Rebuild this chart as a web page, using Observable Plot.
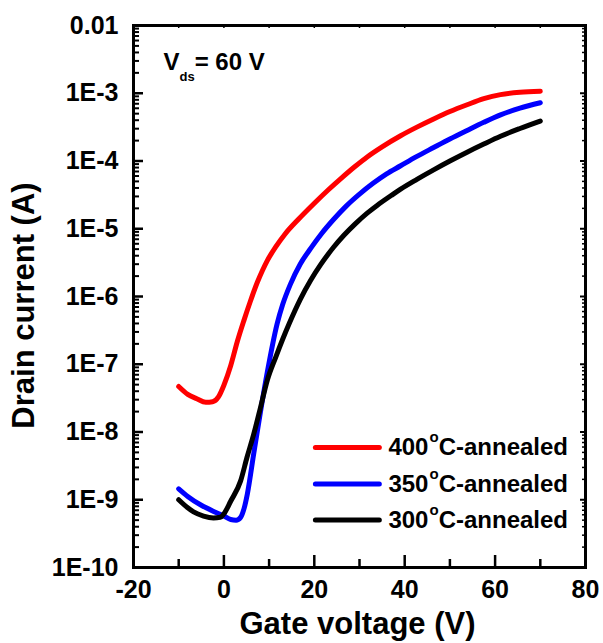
<!DOCTYPE html>
<html><head><meta charset="utf-8">
<script src="https://cdn.jsdelivr.net/npm/d3@7"></script>
<script src="https://cdn.jsdelivr.net/npm/@observablehq/plot@0.6"></script>
<style>
body{margin:0;background:#fff}
svg{font-family:"Liberation Sans",Arial,sans-serif;font-weight:bold}
</style>
</head><body>
<script>
// ---- data ----
const seriesNames = ["400°C-annealed", "350°C-annealed", "300°C-annealed"];
const seriesColors = ["#ff0000", "#0000ff", "#000000"];

const vg400 = [-10,-8,-6,-4,-2.5,-1.2,0,1.5,3,4.4,5.8,7.4,8.5,9.6,11.5,13.5,16.5,19.9,23,26,29,31.7,35,39,42.7,46.4,50,53.8,57.5,61.2,65.5,70];
const id400 = [4.7e-8,3.6e-8,3.1e-8,2.75e-8,2.8e-8,3.3e-8,4.9e-8,9.5e-8,2.2e-7,4.37e-7,8.3e-7,1.62e-6,2.4e-6,3.39e-6,5.43e-6,8.3e-6,1.38e-5,2.34e-5,3.7e-5,5.6e-5,8.3e-5,1.15e-4,1.62e-4,2.34e-4,3.16e-4,4.17e-4,5.37e-4,6.76e-4,8.3e-4,9.55e-4,1.035e-3,1.07e-3];

const vg350 = [-10,-8,-5,-2,0,1.5,2.7,3.7,4.5,5.2,6.6,8.1,9.6,11.8,13,14.7,16.9,19.2,21.5,24.3,27,30,33,36,39.1,42.5,46.4,50,53.8,57.5,61.2,65.5,70];
const id350 = [1.45e-9,1.12e-9,8.3e-10,6.6e-10,5.75e-10,5.1e-10,5.0e-10,5.5e-10,7.6e-10,1.23e-9,4.8e-9,2.0e-8,7.6e-8,4.0e-7,7.6e-7,1.51e-6,3.02e-6,5.13e-6,8.3e-6,1.38e-5,2.14e-5,3.24e-5,4.68e-5,6.46e-5,8.5e-5,1.15e-4,1.58e-4,2.11e-4,2.82e-4,3.72e-4,4.79e-4,6.03e-4,7.24e-4];

const vg300 = [-10,-8,-6.7,-4.5,-2.3,-0.8,0,1.5,3.7,5.1,6.6,8.1,9.6,11.5,13,14.5,16.9,19.2,21.4,24.3,26.5,29,31.7,33.9,37,39.1,42.7,46.4,50,53.8,57.5,61.2,65.5,70];
const id300 = [1.0e-9,7.6e-10,6.6e-10,5.75e-10,5.4e-10,5.5e-10,6.2e-10,9.5e-10,1.9e-9,4.2e-9,9.3e-9,2.3e-8,5.8e-8,1.29e-7,2.34e-7,4.07e-7,9.1e-7,1.74e-6,2.95e-6,5.37e-6,7.94e-6,1.17e-5,1.70e-5,2.21e-5,3.09e-5,3.85e-5,5.37e-5,7.41e-5,1.0e-4,1.35e-4,1.78e-4,2.32e-4,3.02e-4,3.89e-4];

const xTicks = [-20, 0, 20, 40, 60, 80];
const xTickLabels = ["-20", "0", "20", "40", "60", "80"];
const xMinorTicks = [-10, 10, 30, 50, 70];
const yTicks = [1e-10, 1e-9, 1e-8, 1e-7, 1e-6, 1e-5, 1e-4, 1e-3, 1e-2];
const yTickLabels = ["1E-10", "1E-9", "1E-8", "1E-7", "1E-6", "1E-5", "1E-4", "1E-3", "0.01"];
const xTitle = "Gate voltage (V)";
const yTitle = "Drain current (A)";
const note = "Vds= 60 V";

// legend layout (in data units)
const legendX1 = 20.35, legendX2 = 34.5, legendTextX = 36.4;
const legendY = [5.9e-9, 1.71e-9, 5.02e-10];

// ---- build table ----
const gates = [vg400, vg350, vg300];
const currents = [id400, id350, id300];
const rows = [];
seriesNames.forEach((s, k) => gates[k].forEach((v, i) => rows.push({series: s, vg: v, id: currents[k][i]})));
const legendRows = seriesNames.map((s, i) => ({series: s, y: legendY[i]}));

const yMinor = [];
yTicks.slice(0, -1).forEach(t => { for (let m = 2; m <= 9; m++) yMinor.push(t * m); });

const W = 603, H = 643, mL = 133, mR = 18, mT = 25, mB = 76;
const fw = W - mL - mR, fh = H - mT - mB;

const chart = Plot.plot({
  width: W, height: H,
  marginLeft: mL, marginRight: mR, marginTop: mT, marginBottom: mB,
  style: {fontFamily: "Liberation Sans, Arial, sans-serif", fontWeight: "bold", fontSize: "25px", background: "#fff", color: "#000"},
  x: {domain: [-20, 80]},
  y: {type: "log", domain: [1e-10, 1e-2]},
  color: {domain: seriesNames, range: seriesColors},
  marks: [
    Plot.axisY({ticks: yTicks, tickFormat: d => yTickLabels[yTicks.indexOf(d)], tickSize: 0, tickPadding: 15, label: null, fontSize: 25}),
    Plot.axisX({ticks: xTicks, tickFormat: d => xTickLabels[xTicks.indexOf(d)], tickSize: 0, tickPadding: 13, label: null, fontSize: 25}),
    // inward ticks
    Plot.tickY(yTicks, {y: d => d, insetRight: fw - 10, strokeWidth: 2.5}),
    Plot.tickY(yMinor, {y: d => d, insetRight: fw - 6, strokeWidth: 2}),
    Plot.tickY(yTicks, {y: d => d, insetLeft: fw - 5, strokeWidth: 2}),
    Plot.tickY(yMinor, {y: d => d, insetLeft: fw - 3, strokeWidth: 1.5}),
    Plot.tickX(xTicks, {x: d => d, insetTop: fh - 12, strokeWidth: 2.5}),
    Plot.tickX(xMinorTicks, {x: d => d, insetTop: fh - 8, strokeWidth: 2.5}),
    Plot.tickX(xTicks.concat(xMinorTicks), {x: d => d, insetBottom: fh - 3, strokeWidth: 1.5}),
    Plot.frame({strokeWidth: 3}),
    Plot.line(rows, {x: "vg", y: "id", z: "series", stroke: "series", strokeWidth: 5, curve: "monotone-x", strokeLinecap: "round", strokeLinejoin: "round"}),
    // legend
    Plot.ruleY(legendRows, {y: "y", x1: legendX1, x2: legendX2, stroke: "series", strokeWidth: 5, strokeLinecap: "round"}),
    Plot.text(legendRows, {x: legendTextX, y: "y", text: "series", textAnchor: "start", lineAnchor: "middle", fontSize: 24, fontWeight: "bold"}),
    // annotation & titles
    Plot.text([note], {frameAnchor: "top-left", dx: 30, dy: 36.5, textAnchor: "start", lineAnchor: "middle", fontSize: 24, fontWeight: "bold"}),
    Plot.text([xTitle], {frameAnchor: "bottom", dx: -2, dy: 57, textAnchor: "middle", lineAnchor: "middle", fontSize: 31, fontWeight: "bold"}),
    Plot.text([yTitle], {frameAnchor: "left", rotate: -90, dx: -109, dy: 9, textAnchor: "middle", lineAnchor: "middle", fontSize: 31, fontWeight: "bold"})
  ]
});

// rich text: superscript "o" and subscript "ds"
d3.select(chart).selectAll("text").each(function () {
  const t = d3.select(this);
  const s = this.textContent;
  const m = s.match(/^(\d+)°(C-annealed)$/);
  if (m) {
    t.text(null);
    t.append("tspan").text(m[1]);
    t.append("tspan").attr("font-size", 15).attr("dy", -13).attr("dx", 1).text("o");
    t.append("tspan").attr("dy", 13).text(m[2]);
  } else if (s === note) {
    t.text(null);
    t.append("tspan").text("V");
    t.append("tspan").attr("font-size", 13).attr("dy", 11).text("ds");
    t.append("tspan").attr("dy", -11).text("= 60 V");
  }
});

document.body.appendChild(chart);
</script>
</body></html>
